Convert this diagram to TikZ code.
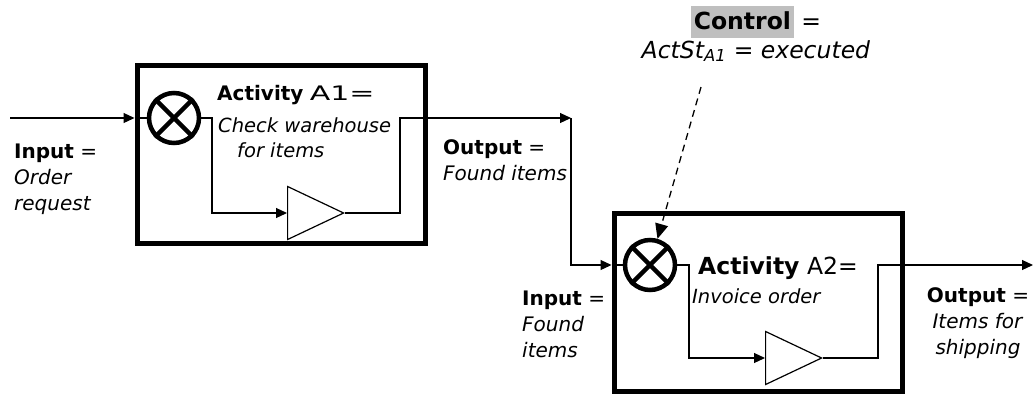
\documentclass[tikz,border=0pt]{standalone}
\usepackage{graphicx}
\usepackage{fontspec}
\setmainfont{DejaVu Sans}
\usepackage{tikz}
\usetikzlibrary{arrows.meta}
\usetikzlibrary{shapes.geometric}

\begin{document}
\begin{tikzpicture}[x=1pt, y=-1pt,
    actbox/.style={rectangle, draw=black, line width=5pt, minimum width=288pt, minimum height=178pt, inner sep=0pt},
    joint/.style={circle, draw=black, line width=4.5pt, minimum size=50pt, inner sep=0pt},
    amp/.style={isosceles triangle, isosceles triangle stretches, draw=black, line width=1.2pt, minimum width=53pt, minimum height=56pt, inner sep=0pt, anchor=west},
    wire/.style={line width=1.2pt},
    flow/.style={wire, -{Triangle[length=11pt, width=10pt]}},
    lbl/.style={inner sep=0pt, anchor=base west, align=left, font=\fontsize{20}{26}\selectfont},
    tasklbl/.style={lbl, font=\fontsize{19.5}{25}\selectfont},
    biglbl/.style={inner sep=0pt, font=\fontsize{23.5}{29}\selectfont}]

  % Page size
  \useasboundingbox (0,0) rectangle (1034,394);

  % Activity boxes
  \node[actbox] (box1) at (281,154) {};
  \node[actbox] (box2) at (758,302) {};

  % Joints with a cross inside
  \node[joint] (c1) at (174,118) {};
  \node[joint] (c2) at (650,265) {};
  \foreach \c in {c1,c2} {
    \draw[line width=4.5pt] (\c.45) -- (\c.225);
    \draw[line width=4.5pt] (\c.135) -- (\c.315);
  }

  % Amplifiers
  \node[amp] (t1) at (287,213) {};
  \node[amp] (t2) at (765,358) {};

  % Bends and free ends of the connectors
  \coordinate (in1) at (10,118);
  \coordinate (d1) at (212,118);
  \coordinate (j1) at (400,118);
  \coordinate (o1) at (571,118);
  \coordinate (d2) at (689,265);
  \coordinate (j2) at (878,265);
  \coordinate (o2) at (1033,265);
  \coordinate (ctl) at (701,87);

  % Flow through activity A1
  \draw[flow] (in1) -- (box1.west |- c1);
  \draw[wire] (box1.west |- c1) -- (c1);
  \draw[flow] (c1) -- (d1) |- (t1.west);
  \draw[flow] (t1.apex) -| (j1) -- (o1);

  % Flow through activity A2
  \draw[flow] (o1) |- (box2.west |- c2);
  \draw[wire] (box2.west |- c2) -- (c2);
  \draw[flow] (c2) -- (d2) |- (t2.west);
  \draw[flow] (t2.apex) -| (j2) -- (o2);

  % Control
  \draw[line width=1.3pt, dash pattern=on 7pt off 5pt, -{Triangle[length=15pt, width=13pt]}] (ctl) -- (c2);

  % Labels (base = baseline of the last line)
  \node[lbl] (act1) at (217,100) {\textbf{Activity} \scalebox{1.5}[1]{A1=}};
  \node[tasklbl] (task1) at (218,157) {\textit{Check warehouse}\\\hspace*{19pt}\textit{for items}};
  \node[lbl] (in1lbl) at (14,210) {\textbf{Input} =\\\textit{Order}\\\textit{request}};
  \node[lbl] (out1lbl) at (443,180) {\textbf{Output} =\\\textit{Found items}};
  \node[biglbl, anchor=base, align=center] (ctllbl) at (756,58)
    {\setlength{\fboxsep}{3pt}\colorbox{gray!50}{\rule[-6pt]{0pt}{26pt}\textbf{Control}} =\\\textit{ActSt\textsubscript{A1} = executed}};
  \node[biglbl, anchor=base west] (act2) at (698,274) {\textbf{Activity} A2=};
  \node[tasklbl] (task2) at (692,303) {\textit{Invoice order}};
  \node[lbl] (in2lbl) at (522,357) {\textbf{Input} =\\\textit{Found}\\\textit{items}};
  \node[lbl, anchor=base, align=center] (out2lbl) at (978,354) {\textbf{Output} =\\\textit{Items for}\\\textit{shipping}};

\end{tikzpicture}
\end{document}
